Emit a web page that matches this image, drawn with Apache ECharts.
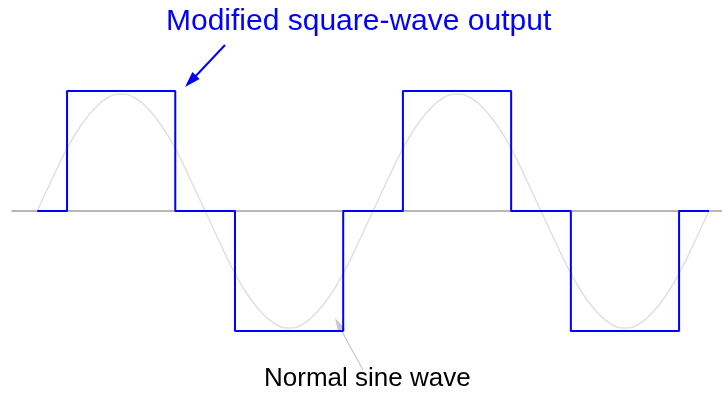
<!DOCTYPE html>
<html>
<head>
<meta charset="utf-8">
<script src="https://cdn.jsdelivr.net/npm/echarts@6/dist/echarts.min.js"></script>
<style>
  html, body { margin: 0; padding: 0; background: #fff; }
  #chart { width: 722px; height: 400px; }
</style>
</head>
<body>
<div id="chart"></div>
<script>
// phase angle in degrees (two full cycles)
var sineX = [0, 15, 30, 45, 60, 75, 90, 105, 120, 135, 150, 165, 180,
             195, 210, 225, 240, 255, 270, 285, 300, 315, 330, 345, 360,
             375, 390, 405, 420, 435, 450, 465, 480, 495, 510, 525, 540,
             555, 570, 585, 600, 615, 630, 645, 660, 675, 690, 705, 720];
// normal sine wave
var sineY = [0, 30, 59, 83, 101, 113, 117, 113, 101, 83, 59, 30, 0,
             -30, -59, -83, -101, -113, -117, -113, -101, -83, -59, -30, 0,
             30, 59, 83, 101, 113, 117, 113, 101, 83, 59, 30, 0,
             -30, -59, -83, -101, -113, -117, -113, -101, -83, -59, -30, 0];
// modified square-wave output (step corners)
var squareX = [0, 32, 32, 148, 148, 212, 212, 328, 328, 392, 392, 508, 508, 572, 572, 688, 688, 720];
var squareY = [0, 0, 120, 120, 0, 0, -120, -120, 0, 0, 120, 120, 0, 0, -120, -120, 0, 0];

var titleText = 'Modified square-wave output';
var sineText = 'Normal sine wave';

var font = '"Liberation Sans", Arial, sans-serif';

function pairs(xs, ys) {
    return xs.map(function (x, i) { return [x, ys[i]]; });
}

var myChart = echarts.init(document.getElementById('chart'));

var option = {
    animation: false,
    grid: { left: 12, right: 0, top: 61, bottom: 39 },
    xAxis: {
        type: 'value',
        min: -27,
        max: 734,
        axisLine: { show: true, onZero: true, lineStyle: { color: '#a0a0a0', width: 1.5 } },
        axisTick: { show: false },
        axisLabel: { show: false },
        splitLine: { show: false }
    },
    yAxis: {
        type: 'value',
        min: -150,
        max: 150,
        show: false
    },
    series: [
        {
            name: 'sine',
            type: 'line',
            data: pairs(sineX, sineY),
            smooth: true,
            showSymbol: false,
            lineStyle: { color: '#e0e0e0', width: 1.5 },
            z: 1
        },
        {
            name: 'square',
            type: 'line',
            data: pairs(squareX, squareY),
            showSymbol: false,
            lineStyle: { color: '#0000ff', width: 2 },
            z: 3
        }
    ],
    graphic: [
        {
            type: 'text',
            left: 166,
            top: 7,
            style: { text: titleText, fill: '#0000ff', font: '30px ' + font }
        },
        {
            type: 'line',
            shape: { x1: 225, y1: 45, x2: 192, y2: 80 },
            style: { stroke: '#0000ff', lineWidth: 2 }
        },
        {
            type: 'polygon',
            shape: { points: [[185, 87], [199.6, 79], [192.4, 72]] },
            style: { fill: '#0000ff' }
        },
        {
            type: 'text',
            left: 264,
            top: 366,
            style: { text: sineText, fill: '#000', font: '26px ' + font }
        },
        {
            type: 'line',
            shape: { x1: 363, y1: 370, x2: 340, y2: 328 },
            style: { stroke: '#c8c8c8', lineWidth: 1.2 },
            z: -1
        },
        {
            type: 'polygon',
            shape: { points: [[335, 318], [345.1, 328.4], [338.1, 332.2]] },
            style: { fill: '#c8c8c8' },
            z: -1
        }
    ]
};

myChart.setOption(option);
</script>
</body>
</html>
